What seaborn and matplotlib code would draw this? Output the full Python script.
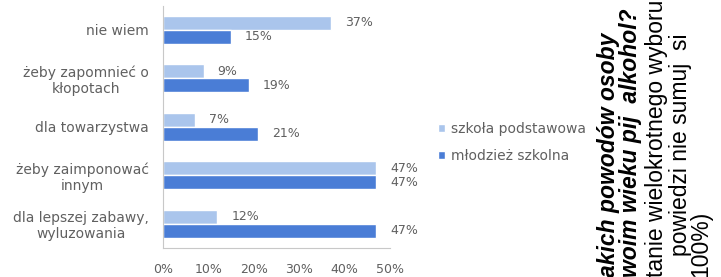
import matplotlib
matplotlib.use("Agg")
import matplotlib.pyplot as plt
import seaborn as sns
import pandas as pd
from matplotlib.ticker import FixedLocator

categories = ["nie wiem", "żeby zapomnieć o\nkłopotach", "dla towarzystwa",
              "żeby zaimponować\ninnym", "dla lepszej zabawy,\nwyluzowania"]
groups = ["szkoła podstawowa", "młodzież szkolna"]
szkola_podstawowa = [37, 9, 7, 47, 12]
mlodziez_szkolna = [15, 19, 21, 47, 47]
xticks = [0, 10, 20, 30, 40, 50]

rows = []
for c, a, b in zip(categories, szkola_podstawowa, mlodziez_szkolna):
    rows.append({"cat": c, "grp": groups[0], "val": a})
    rows.append({"cat": c, "grp": groups[1], "val": b})
df = pd.DataFrame(rows)

sns.set_style("white")
plt.rcParams['font.family'] = ['DejaVu Sans']

fig = plt.figure(figsize=(7.21, 2.77), dpi=100)
ax = fig.add_axes([163/721, 1-248/277, 227/721, 242.5/277])

light = "#aac5ec"
dark = "#4a7dd6"
gray = "#606060"
sns.barplot(data=df, y="cat", x="val", hue="grp", orient="h",
            palette=[light, dark], width=0.58, ax=ax, saturation=1,
            order=categories, hue_order=groups)

for cont in ax.containers:
    ax.bar_label(cont, labels=[f"{int(v)}%" for v in cont.datavalues],
                 padding=10, fontsize=9, color=gray)

handles, labels = ax.get_legend_handles_labels()
if ax.get_legend():
    ax.get_legend().remove()
fig.legend(handles, labels, loc="upper left", bbox_to_anchor=(426/721, 1-109/277),
           frameon=False, fontsize=10, handlelength=0.5, handleheight=0.5,
           handletextpad=0.4, labelspacing=0.95, labelcolor=gray)

ax.set_xlim(0, 50)
ax.set_xticks(xticks)
ax.set_xticklabels([f"{t}%" for t in xticks], fontsize=9, color=gray)
ax.set_ylabel("")
ax.set_xlabel("")
ax.tick_params(axis="y", length=0, labelsize=10, labelcolor=gray, pad=10)
for t in ax.get_yticklabels():
    t.set_multialignment("center")
    t.set_linespacing(1.15)
ax.yaxis.set_minor_locator(FixedLocator([0.5, 1.5, 2.5, 3.5, 4.5, -0.5]))
ax.tick_params(axis="y", which="minor", length=3, color="#c8c8c8", direction="out")
ax.tick_params(axis="x", length=3, color="#c8c8c8", direction="in", pad=11)
for s in ["top", "right"]:
    ax.spines[s].set_visible(False)
for s in ["left", "bottom"]:
    ax.spines[s].set_color("#c8c8c8")
    ax.spines[s].set_linewidth(0.8)

tf = ["Liberation Sans", "DejaVu Sans"]
fs = 16.5
fig.text(609/721, 1-33/277, "akich powodów osoby", rotation=90, ha="center", va="top",
         fontsize=fs, fontweight="bold", fontstyle="italic", family=tf, color="black")
fig.text(630/721, 0.0, "woim wieku pij  alkohol?", rotation=90, ha="center", va="bottom",
         fontsize=fs, fontweight="bold", fontstyle="italic", family=tf, color="black")
fig.text(657/721, 0.0, "tanie wielokrotnego wyboru", rotation=90, ha="center", va="bottom",
         fontsize=fs, family=tf, color="black")
fig.text(680/721, 1-33/277, "powiedzi nie sumuj  si", rotation=90, ha="center", va="top",
         fontsize=fs, family=tf, color="black")
fig.text(701/721, 0.0, "100%)", rotation=90, ha="center", va="bottom",
         fontsize=fs, family=tf, color="black")

fig.savefig("out.png", dpi=100, facecolor="white")
